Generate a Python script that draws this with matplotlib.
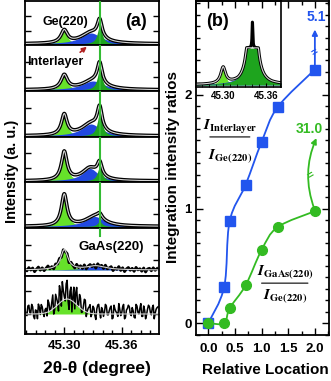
import numpy as np
import matplotlib
matplotlib.use('Agg')
import matplotlib.pyplot as plt
from matplotlib.path import Path
from matplotlib.patches import PathPatch, FancyArrowPatch
from matplotlib.ticker import MultipleLocator, FixedLocator

plt.rcParams['font.family'] = ['Liberation Sans', 'DejaVu Sans']
plt.rcParams['font.weight'] = 'bold'
plt.rcParams['mathtext.fontset'] = 'stix'

FIG_W, FIG_H = 331, 381

# ---- (a) fitted XRD components per location, top row -> bottom row
tt_lo, tt_hi = 45.259, 45.399
lime_pos = [45.300, 45.300, 45.300, 45.300, 45.300, 45.300, 45.303]
lime_amp = [12.5, 14.0, 20.5, 28.5, 31.5, 20.0, 15.0]
lime_wid = [0.0040, 0.0040, 0.0035, 0.0035, 0.0035, 0.0045, 0.0100]
blue_pos = [45.328, 45.330, 45.328, 45.327, 45.332, 45.333, 45.333]
blue_amp = [11.0, 9.0, 12.0, 12.5, 10.0, 4.0, 0.0]
blue_wid = [0.013, 0.014, 0.012, 0.010, 0.012, 0.012, 0.012]
ge_pos = 45.337
ge_amp = [18.0, 21.0, 23.0, 14.0, 5.0, 0.0, 0.0]
ge_wid = [0.0030, 0.0030, 0.0030, 0.0030, 0.0030, 0.0030, 0.0030]
base_lvl = [1.0, 1.0, 1.0, 1.0, 1.5, 6.0, 20.0]
noise_amp = [0, 0, 0, 0, 0, 2.5, 8.0]

noise_a = [0.3, -0.5, 0.8, -0.2, 0.6, -0.9, 0.1, 0.9, -0.4, 0.5,
           -0.7, 0.2, 1.0, -0.3, 0.4, -0.8, 0.7, -0.1, 0.9, -0.6,
           0.3, -0.4, 0.8, -0.9, 0.5, 0.0, -0.7, 1.0, -0.2, 0.6,
           -0.5, 0.9, -0.8, 0.2, 0.7, -0.3, 0.4, -1.0, 0.8, -0.1,
           0.5, -0.6, 0.9, -0.4, 0.1, 0.7, -0.8, 0.3, -0.2, 1.0,
           -0.5, 0.6, -0.9, 0.2, 0.8, -0.3, 0.5, -0.7, 0.9, -0.1,
           0.4, -0.6, 0.7, -0.9, 0.3, 0.6, -0.4, 0.8, -0.2, 0.5]
noise_b = [-0.4, 0.7, -0.1, 0.9, -0.6, 0.2, -0.9, 0.5, 0.8, -0.3,
           0.1, -0.7, 0.6, -0.2, 1.0, -0.5, 0.3, -0.8, 0.4, 0.9,
           -0.1, 0.6, -0.4, 0.2, -1.0, 0.7, 0.5, -0.3, 0.8, -0.6,
           0.1, 0.9, -0.2, 0.4, -0.7, 0.6, -0.5, 0.3, 0.9, -0.8,
           0.2, -0.1, 0.7, -0.4, 0.5, -0.9, 0.8, 0.0, -0.6, 0.3,
           -0.2, 0.9, -0.7, 0.4, 0.6, -0.5, 0.1, -0.8, 0.7, -0.3,
           1.0, -0.6, 0.2, -0.4, 0.8, -0.1, 0.5, -0.9, 0.3, 0.6]

# inset of (b)
ins_lime = (45.300, 16.0, 0.004)
ins_blue = (45.340, 24.0, 0.013)
ins_ge = (45.341, 200.0, 0.004)
ins_ge_cap = 37.0
ins_spike = (45.341, 26.0, 0.0006)

# ---- (b) integration intensity ratios
rel_loc = [0.0, 0.3, 0.4, 0.7, 1.0, 1.3, 2.0]
ratio_interlayer = [0.0, 0.32, 0.89, 1.21, 1.585, 1.89, 2.22]
ratio_gaas = [0.0, 0.0, 0.13, 0.33, 0.64, 0.84, 0.98]

LIME = '#66e22a'
DKGREEN = '#1ea41e'
BLUE_FILL = '#2148e0'
VLINE = '#33bb33'
PT_BLUE = '#2255ee'
PT_GREEN = '#33bb22'
FIT_GREY = '#d6d6d6'


def lorentz(x, c, a, w):
    return a / (1 + ((x - c) / w) ** 2)


def gauss(x, c, a, s):
    return a * np.exp(-0.5 * ((x - c) / s) ** 2)


def rect(x0, y0, x1, y1):
    # pixel box (from top-left) -> figure fraction
    return [x0 / FIG_W, 1 - y1 / FIG_H, (x1 - x0) / FIG_W, (y1 - y0) / FIG_H]


def fpx(x, y):
    return (x / FIG_W, 1 - y / FIG_H)


def smooth_path(xs, ys):
    pts = np.column_stack([xs, ys])
    n = len(pts)
    verts, codes = [pts[0]], [Path.MOVETO]
    for i in range(n - 1):
        p0, p1 = pts[max(i - 1, 0)], pts[i]
        p2, p3 = pts[i + 1], pts[min(i + 2, n - 1)]
        verts += [p1 + (p2 - p0) / 6, p2 - (p3 - p1) / 6, p2]
        codes += [Path.CURVE4] * 3
    return Path(verts, codes)


fig = plt.figure(figsize=(FIG_W / 100, FIG_H / 100), dpi=100)

row_edges = [1, 45, 91, 137, 182, 228, 276, 334]
row_yticks = [[14, 29]] * 5 + [[16, 31], [20, 43]]
xf = np.linspace(tt_lo, tt_hi, 800)
for i in range(7):
    top, bot = row_edges[i], row_edges[i + 1]
    ax = fig.add_axes(rect(25, top, 159, bot))
    b = base_lvl[i]
    prof = gauss if i == 6 else lorentz
    lime = prof(xf, lime_pos[i], lime_amp[i], lime_wid[i])
    blue = lorentz(xf, blue_pos[i], blue_amp[i], blue_wid[i])
    ge = lorentz(xf, ge_pos, ge_amp[i], ge_wid[i])
    ax.fill_between(xf, b, b + lime, color=LIME, lw=0)
    if blue_amp[i] > 0:
        ax.fill_between(xf, b, b + blue, color=BLUE_FILL, lw=0)
    if ge_amp[i] > 0:
        ax.fill_between(xf, b, b + ge, color=DKGREEN, lw=0)
    fit = b + lime + blue + ge
    if noise_amp[i] == 0:
        ax.plot(xf, fit, color='k', lw=2.6, solid_capstyle='round')
    elif i == 5:
        xn = tt_lo + 0.002 * np.arange(len(noise_a))
        yn = (b + prof(xn, lime_pos[i], lime_amp[i], lime_wid[i])
              + lorentz(xn, blue_pos[i], blue_amp[i], blue_wid[i])
              + noise_amp[i] * np.array(noise_a))
        ax.plot(xn, yn, color='k', lw=2.0)
    else:
        nz = np.column_stack([noise_a, noise_b]).ravel()
        xn = tt_lo + 0.001 * np.arange(len(nz))
        g = gauss(xn, lime_pos[i], lime_amp[i], lime_wid[i])
        yn = b + g + (noise_amp[i] + 0.6 * g) * (nz + 0.3)
        ax.plot(xn, yn, color='k', lw=1.1)
    ax.plot(xf, fit, color=FIT_GREY, lw=0.8)
    if i < 5:
        ax.axvline(ge_pos, color=VLINE, lw=1.5, zorder=5)
    elif i == 5:
        ax.axvline(ge_pos, ymin=1 - 8 / (bot - top), ymax=1, color=VLINE, lw=1.5, zorder=5)
    ax.set_xlim(tt_lo, tt_hi)
    ax.set_ylim(0, bot - top)
    ax.yaxis.set_major_locator(FixedLocator(row_yticks[i]))
    ax.tick_params(axis='y', direction='in', left=True, right=True, labelleft=False, length=4, width=1)
    for s in ax.spines.values():
        s.set_linewidth(1.3)
    if i == 6:
        ax.set_xticks([45.30, 45.36])
        ax.set_xticklabels(['45.30', '45.36'])
        ax.xaxis.set_minor_locator(MultipleLocator(0.01))
        ax.tick_params(axis='x', which='major', direction='in', length=5, width=1, labelsize=9.5, pad=4)
        ax.tick_params(axis='x', which='minor', direction='in', length=3, width=1)
    else:
        ax.tick_params(axis='x', which='both', bottom=False, labelbottom=False)

fig.text(*fpx(65, 22), 'Ge(220)', fontsize=9, fontweight='bold', ha='center', va='center')
fig.text(*fpx(136, 22), '(a)', fontsize=13, fontweight='bold', ha='center', va='center')
fig.text(*fpx(55, 62), 'Interlayer', fontsize=9, fontweight='bold', ha='center', va='center')
fig.text(*fpx(111, 247), 'GaAs(220)', fontsize=9.5, fontweight='bold', ha='center', va='center')
fig.add_artist(FancyArrowPatch(fpx(78, 54), fpx(89, 45), transform=fig.transFigure,
                               arrowstyle='-|>', mutation_scale=7, color='#b22222', lw=1.2))
fig.text(*fpx(12, 171), 'Intensity (a. u.)', rotation=90, fontsize=10.5, fontweight='bold',
         ha='center', va='center')
fig.text(*fpx(97, 368), '2θ-θ (degree)', fontsize=12.5, fontweight='bold', ha='center', va='center')

# ---- (b)
axb = fig.add_axes(rect(196, 1, 329, 335))
axb.add_patch(PathPatch(smooth_path(rel_loc, ratio_interlayer), fill=False, ec=PT_BLUE, lw=1.3))
axb.add_patch(PathPatch(smooth_path(rel_loc, ratio_gaas), fill=False, ec=PT_GREEN, lw=1.3))
axb.plot(rel_loc, ratio_interlayer, ls='', marker='s', ms=6.5, color=PT_BLUE, zorder=4)
axb.plot(rel_loc, ratio_gaas, ls='', marker='o', ms=7, color=PT_GREEN, zorder=4)
axb.set_xlim(-0.23, 2.265)
axb.set_ylim(-0.104, 2.82)
axb.set_xticks([0, 0.5, 1.0, 1.5, 2.0])
axb.set_xticklabels(['0.0', '0.5', '1.0', '1.5', '2.0'])
axb.set_yticks([0, 1, 2])
axb.set_yticklabels(['0', '1', '2'])
axb.xaxis.set_minor_locator(MultipleLocator(0.25))
axb.yaxis.set_minor_locator(MultipleLocator(0.1))
axb.tick_params(which='both', direction='in', top=True, right=True, width=1)
axb.tick_params(which='major', length=5, labelsize=9.5)
axb.tick_params(axis='x', which='major', pad=6)
axb.tick_params(axis='y', which='major', pad=3)
axb.tick_params(which='minor', length=3)
for s in axb.spines.values():
    s.set_linewidth(1.3)

# break arrows to the off-scale values
axb.annotate('', xy=(2.0, 2.57), xytext=(2.0, 2.26),
             arrowprops=dict(arrowstyle='-|>', color=PT_BLUE, lw=1.3, mutation_scale=8,
                             shrinkA=0, shrinkB=0))
axb.text(2.0, 2.37, '=', rotation=30, color=PT_BLUE, fontsize=8, ha='center', va='center')
axb.text(2.03, 2.68, '5.1', color=PT_BLUE, fontsize=10, fontweight='bold', ha='center', va='center')
axb.annotate('', xy=(2.03, 1.62), xytext=(1.99, 1.0),
             arrowprops=dict(arrowstyle='-|>', color=PT_GREEN, lw=1.3, mutation_scale=8,
                             shrinkA=0, shrinkB=0, connectionstyle='arc3,rad=-0.2'))
axb.text(1.93, 1.29, '=', rotation=30, color=PT_GREEN, fontsize=8, ha='center', va='center')
axb.text(1.89, 1.70, '31.0', color=PT_GREEN, fontsize=10, fontweight='bold', ha='center', va='center')

# ratio labels
axb.text(0.41, 1.72, r'$I_{\mathrm{Interlayer}}$', fontsize=11, ha='center', va='center')
axb.annotate('', xy=(0.78, 1.63), xytext=(0.03, 1.63),
             arrowprops=dict(arrowstyle='-', color='k', lw=0.8, shrinkA=0, shrinkB=0))
axb.text(0.41, 1.46, r'$I_{\mathrm{Ge(220)}}$', fontsize=11, ha='center', va='center')
axb.text(1.44, 0.445, r'$I_{\mathrm{GaAs(220)}}$', fontsize=11, ha='center', va='center')
axb.annotate('', xy=(1.87, 0.35), xytext=(1.0, 0.35),
             arrowprops=dict(arrowstyle='-', color='k', lw=0.8, shrinkA=0, shrinkB=0))
axb.text(1.44, 0.235, r'$I_{\mathrm{Ge(220)}}$', fontsize=11, ha='center', va='center')

fig.text(*fpx(218, 22), '(b)', fontsize=13, fontweight='bold', ha='center', va='center')
fig.text(*fpx(173, 167), 'Integration intensity ratios', rotation=90, fontsize=11,
         fontweight='bold', ha='center', va='center')
fig.text(*fpx(265, 370), 'Relative Location', fontsize=11, fontweight='bold', ha='center', va='center')

# inset spectrum
axi = fig.add_axes(rect(196, 1, 281, 87))
axi.set_facecolor('none')
xi = np.linspace(45.262, 45.381, 800)
ib = 2.0
li = lorentz(xi, *ins_lime)
bi = lorentz(xi, *ins_blue)
gi = np.minimum(lorentz(xi, *ins_ge), ins_ge_cap)
si = lorentz(xi, *ins_spike)
axi.fill_between(xi, ib, ib + li, color=LIME, lw=0)
axi.fill_between(xi, ib, ib + bi, color=BLUE_FILL, lw=0)
axi.fill_between(xi, ib, ib + gi, color=DKGREEN, lw=0)
env = ib + li + np.maximum(bi, gi)
axi.plot(xi, env + si, color='k', lw=2.2)
axi.plot(xi, env, color=FIT_GREY, lw=0.8)
axi.set_xlim(45.262, 45.381)
axi.set_ylim(0, 86)
axi.set_yticks([])
axi.set_xticks([45.30, 45.36])
axi.set_xticklabels(['45.30', '45.36'])
axi.xaxis.set_minor_locator(MultipleLocator(0.01))
axi.tick_params(axis='x', which='major', direction='in', length=3, labelsize=7, pad=3)
axi.tick_params(axis='x', which='minor', direction='in', length=2)
for s in axi.spines.values():
    s.set_linewidth(1.2)

fig.savefig('out.png', dpi=100)
